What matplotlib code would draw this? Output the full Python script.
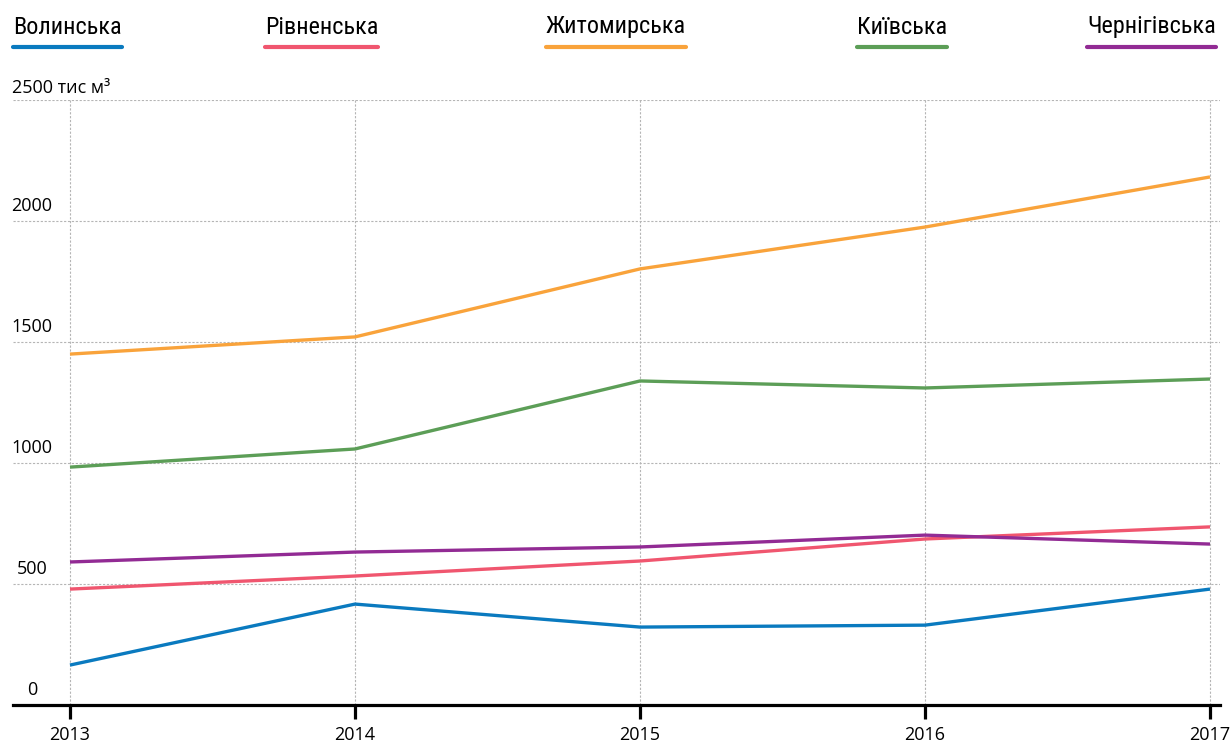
import matplotlib.pyplot as plt
from matplotlib.lines import Line2D

# =====================================================
# Data (тис м³)
# =====================================================
years = [2013, 2014, 2015, 2016, 2017]
regions = ["Волинська", "Рівненська", "Житомирська", "Київська", "Чернігівська"]
volyn = [165, 417, 322, 330, 479]
rivne = [479, 533, 595, 686, 736]
zhytomyr = [1450, 1521, 1802, 1975, 2182]
kyiv = [983, 1058, 1339, 1310, 1347]
chernihiv = [591, 632, 653, 702, 665]
colors = ["#0a7abf", "#f0566f", "#f9a33b", "#5c9e57", "#922b94"]
y_ticks = [0, 500, 1000, 1500, 2000]

plt.rcParams["font.family"] = ["Open Sans", "DejaVu Sans"]

W, H = 1231, 742
fig = plt.figure(figsize=(W / 100, H / 100), dpi=100)
ax = fig.add_axes([13 / W, 1 - 705 / H, (1220 - 13) / W, (705 - 100) / H])

px_year = (1210 - 70) / 4
ax.set_xlim(2013 - 57 / px_year, 2017 + 10 / px_year)
ax.set_ylim(0, 2500)

series = [volyn, rivne, zhytomyr, kyiv, chernihiv]
for vals, c in zip(series, colors):
    ax.plot(years, vals, color=c, lw=2.4, solid_capstyle="butt", zorder=3)

# grid
for y in y_ticks[1:] + [2500]:
    ax.axhline(y, color="#b5b5b5", lw=0.8, ls=(0, (2, 1.5)), zorder=1)
for x in years:
    ax.axvline(x, color="#b5b5b5", lw=0.8, ls=(0, (2, 1.5)), zorder=1)

for s in ["top", "right", "left"]:
    ax.spines[s].set_visible(False)
ax.spines["bottom"].set_linewidth(2.3)
ax.spines["bottom"].set_color("black")

ax.set_xticks(years)
ax.set_xticklabels([str(y) for y in years], fontsize=13)
ax.tick_params(axis="x", length=10, width=2.3, pad=5, colors="black")
ax.set_yticks([])

# y labels above the gridlines
for y in y_ticks:
    ax.text(2013 - 38 / px_year, y + 25, str(y), ha="center", va="bottom",
            fontsize=13, color="black")
ax.text(2013 - 58 / px_year, 2500 + 12, "2500 тис м³", ha="left", va="bottom",
        fontsize=13, color="black")

# legend on top
leg_x = [13, 265, 546, 857, 1087]
fig.canvas.draw()
r = fig.canvas.get_renderer()
for name, c, lx in zip(regions, colors, leg_x):
    t = fig.text(lx / W, 1 - 27 / H, name, ha="left", va="center",
                 fontsize=17.5, color="black", family=["Roboto Condensed", "Roboto", "DejaVu Sans"])
    bb = t.get_window_extent(renderer=r)
    fig.add_artist(Line2D([lx / W, bb.x1 / W], [1 - 47 / H, 1 - 47 / H],
                          color=c, lw=3, solid_capstyle="round"))

fig.savefig("out.png", dpi=100)
